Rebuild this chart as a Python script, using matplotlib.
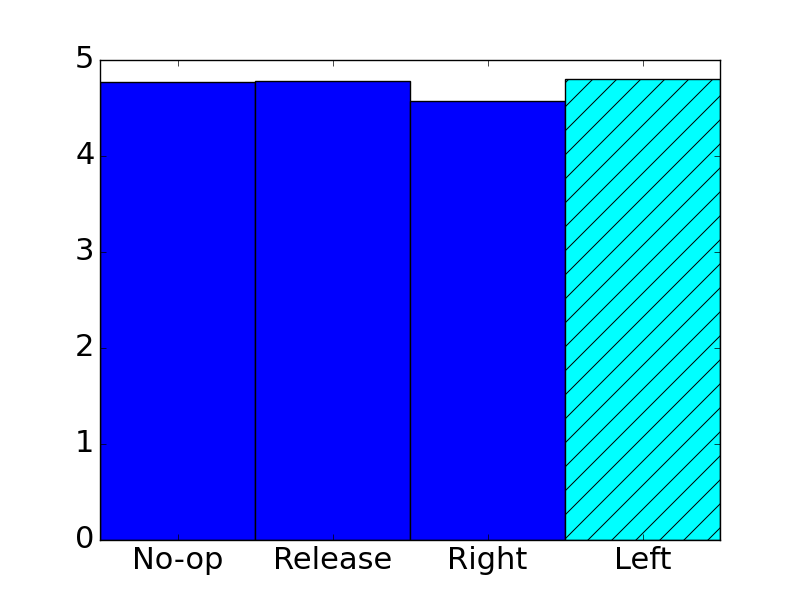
import matplotlib
matplotlib.use("Agg")
import matplotlib.pyplot as plt
import numpy as np

plt.style.use("classic")

actions = ["No-op", "Release", "Right", "Left"]
values = [4.77, 4.78, 4.57, 4.80]
colors = ["blue", "blue", "blue", "cyan"]
hatches = ["", "", "", "/"]

# render at 72 dpi so the hatch spacing matches the older look; scale sizes up
DPI = 72
s = 100 / DPI
for key in ["axes.linewidth", "patch.linewidth",
            "xtick.major.size", "xtick.major.width", "xtick.major.pad",
            "ytick.major.size", "ytick.major.width", "ytick.major.pad"]:
    plt.rcParams[key] = plt.rcParams[key] * s

fig = plt.figure(figsize=(800 / DPI, 600 / DPI), dpi=DPI)
ax = fig.add_subplot(1, 1, 1)

x = np.arange(len(actions))
bars = ax.bar(x, values, width=1.0, color=colors, edgecolor="black", align="center")
for b, h in zip(bars, hatches):
    b.set_hatch(h)

ax.set_xlim(-0.5, len(actions) - 0.5)
ax.set_ylim(0, 5)
ax.set_xticks(x)
ax.set_xticklabels(actions)
ax.set_yticks(np.arange(0, 6, 1))
ax.tick_params(labelsize=22 * s)

fig.savefig("out.png", dpi=DPI)
